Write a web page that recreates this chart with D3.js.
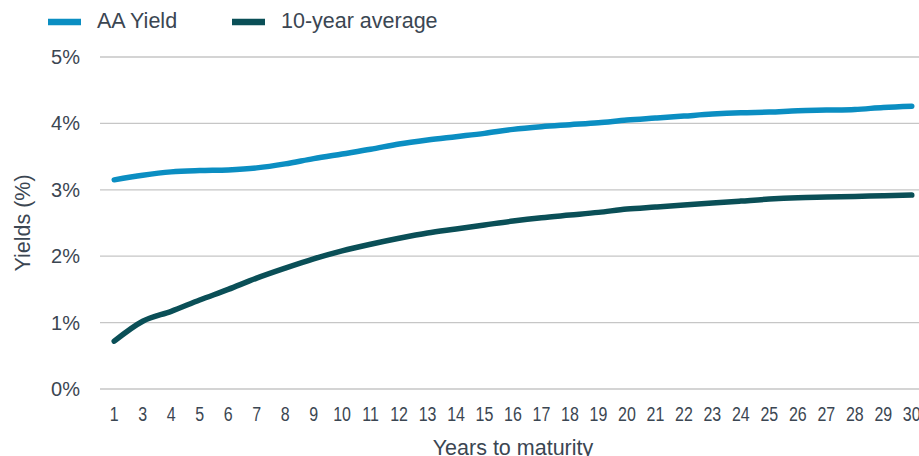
<!DOCTYPE html>
<html>
<head>
<meta charset="utf-8">
<script src="https://cdn.jsdelivr.net/npm/d3@7"></script>
<style>
  body { margin: 0; background: #fff; }
  svg { display: block; font-family: "Liberation Sans", Arial, sans-serif; }
</style>
</head>
<body>
<div id="chart"></div>
<script>
// years to maturity (no 2-year point in the source)
var years = [1, 3, 4, 5, 6, 7, 8, 9, 10, 11, 12, 13, 14, 15, 16, 17, 18, 19, 20, 21, 22, 23, 24, 25, 26, 27, 28, 29, 30]

var aaYield = [3.15, 3.22, 3.27, 3.29, 3.30, 3.33, 3.39, 3.47, 3.54, 3.61, 3.69, 3.75, 3.80, 3.85, 3.91, 3.95, 3.98, 4.01, 4.05, 4.08, 4.11, 4.14, 4.16, 4.17, 4.19, 4.20, 4.21, 4.24, 4.26]

var tenYearAvg = [0.72, 1.02, 1.17, 1.34, 1.50, 1.67, 1.82, 1.96, 2.08, 2.18, 2.27, 2.35, 2.41, 2.47, 2.53, 2.58, 2.62, 2.66, 2.71, 2.74, 2.77, 2.80, 2.83, 2.86, 2.88, 2.89, 2.90, 2.91, 2.92]

var yTicks = [0, 1, 2, 3, 4, 5]

var seriesNames = ["AA Yield", "10-year average"]
var colours = ["#0b8ec2", "#0a4f57"]

var width = 919, height = 456
var margin = {top: 57, right: -7, bottom: 67, left: 100}
var textCol = "#3b4652"

var svg = d3.select("#chart").append("svg")
	.attr("width", width)
	.attr("height", height)

var x = d3.scaleBand()
	.domain(years)
	.range([margin.left, width - margin.right])

var y = d3.scaleLinear()
	.domain([0, 5])
	.range([height - margin.bottom, margin.top])

// gridlines
svg.append("g")
	.selectAll("line")
	.data(yTicks)
	.join("line")
	.attr("x1", margin.left)
	.attr("x2", width)
	.attr("y1", d => y(d))
	.attr("y2", d => y(d))
	.attr("stroke", "#c6c6c6")
	.attr("stroke-width", 1.3)

// y labels
svg.append("g")
	.selectAll("text")
	.data(yTicks)
	.join("text")
	.attr("x", 80)
	.attr("y", d => y(d))
	.attr("dy", "0.35em")
	.attr("text-anchor", "end")
	.attr("fill", textCol)
	.attr("font-size", 20)
	.text(d => d + "%")

// x labels, squeezed like the original's narrow font
svg.append("g")
	.selectAll("text")
	.data(years)
	.join("text")
	.attr("transform", d => "translate(" + (x(d) + x.bandwidth() / 2) + "," + (y(0) + 31.5) + ") scale(0.82,1)")
	.attr("text-anchor", "middle")
	.attr("fill", textCol)
	.attr("font-size", 19.5)
	.text(d => d)

// axis titles
svg.append("text")
	.attr("transform", "translate(22," + ((y(0) + y(5)) / 2) + ") rotate(-90)")
	.attr("dy", "0.35em")
	.attr("text-anchor", "middle")
	.attr("fill", textCol)
	.attr("font-size", 21.5)
	.text("Yields (%)")

svg.append("text")
	.attr("x", 513)
	.attr("y", 455)
	.attr("text-anchor", "middle")
	.attr("fill", textCol)
	.attr("font-size", 21.5)
	.text("Years to maturity")

var line = d3.line()
	.curve(d3.curveMonotoneX)
	.x((d, i) => x(years[i]) + x.bandwidth() / 2)
	.y(d => y(d))

;[aaYield, tenYearAvg].forEach((s, i) => {
	svg.append("path")
		.datum(s)
		.attr("fill", "none")
		.attr("stroke", colours[i])
		.attr("stroke-width", 5.5)
		.attr("stroke-linecap", "round")
		.attr("stroke-linejoin", "round")
		.attr("d", line)
})

// legend
var legendX = [48, 232]
seriesNames.forEach((name, i) => {
	var g = svg.append("g").attr("transform", "translate(" + legendX[i] + ",22)")
	g.append("line")
		.attr("x1", 0).attr("x2", 33)
		.attr("stroke", colours[i])
		.attr("stroke-width", 6.5)
	g.append("text")
		.attr("x", 49)
		.attr("y", 6.3)
		.attr("fill", textCol)
		.attr("font-size", 21.5)
		.text(name)
})
</script>
</body>
</html>
